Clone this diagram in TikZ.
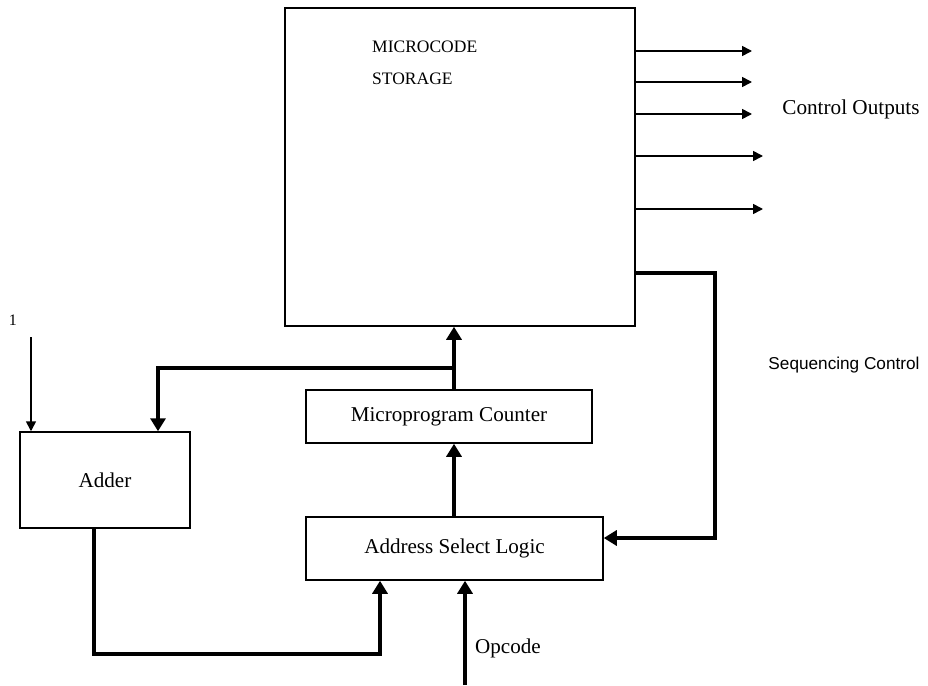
\documentclass[tikz,border=0pt]{standalone}
\usepackage{fontspec}
\setmainfont{Liberation Serif}
\newfontfamily\arialfont{Liberation Sans}
\usetikzlibrary{arrows.meta, positioning}

\begin{document}
\begin{tikzpicture}[x=1pt,y=-1pt,
  block/.style={draw, line width=1.5pt, inner sep=0pt, font=\fontsize{21.1}{25}\selectfont},
  thin/.style={line width=1.6pt, -{Triangle[length=10pt,width=10pt]}},
  thick/.style={line width=4pt, -{Triangle[length=13pt,width=15pt]}}]
\useasboundingbox (0,0) rectangle (928,685);
% define the blocks
  \node[block, minimum width=350pt, minimum height=318pt] (store) at (460,167) {};
  \node[block, minimum width=286pt, minimum height=53pt]  (mpc)   at (449,416.5) {Microprogram Counter};
  \node[block, minimum width=297pt, minimum height=63pt]  (asl)   at (454.5,548.5) {Address Select Logic};
  \node[block, minimum width=170pt, minimum height=96pt]  (adder) at (105,480) {Adder};

% define the labels
  \node[anchor=north west, align=left, inner sep=0pt, font=\fontsize{17.5}{32}\selectfont] (title) at (372,41) {MICROCODE\\STORAGE};
  \node[font=\fontsize{21.2}{25}\selectfont] (ctrl) at (851,109) {Control Outputs};
  \node[font=\arialfont\fontsize{17.2}{21}\selectfont] (seq) at (844,365) {Sequencing Control};
  \node[font=\fontsize{21.1}{25}\selectfont] (opc) at (508,648) {Opcode};
  \node[font=\fontsize{16}{18}\selectfont] (one) at (13,320) {1};

% define the end points
  \coordinate (o1) at (752,51);
  \coordinate (o2) at (752,82);
  \coordinate (o3) at (752,114);
  \coordinate (o4) at (763,156);
  \coordinate (o5) at (763,209);
  \coordinate (s1) at (715,273);
  \coordinate (s2) at (715,538);
  \coordinate (j)  at (454,368);
  \coordinate (a1) at (158,368);
  \coordinate (in) at (31,337);
  \coordinate (b1) at (94,654);
  \coordinate (b2) at (380,654);
  \coordinate (op) at (465,685);

% define the links
  \foreach \o in {o1,o2,o3,o4,o5}
    \draw[thin] (\o -| store.east) -- (\o);
  \draw[thick] (s1 -| store.east) -- (s1) -- (s2) -- (s2 -| asl.east);
  \draw[thick] (asl.north -| j) -- (mpc.south -| j);
  \draw[thick] (mpc.north -| j) -- (store.south -| j);
  \draw[thick] (j) -- (a1) -- (adder.north -| a1);
  \draw[thin] (in) -- (adder.north -| in);
  \draw[thick] (adder.south -| b1) -- (b1) -- (b2) -- (asl.south -| b2);
  \draw[thick] (op) -- (asl.south -| op);
\end{tikzpicture}
\end{document}
